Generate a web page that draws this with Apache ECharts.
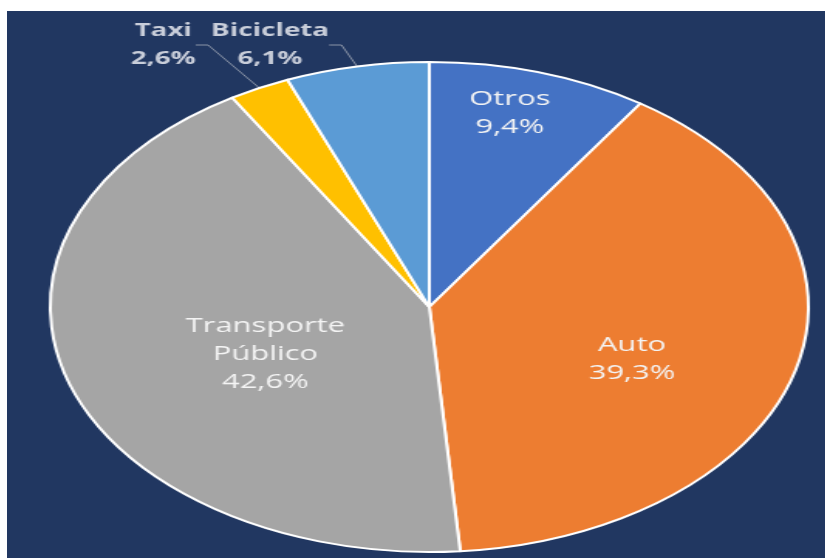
<!DOCTYPE html>
<html>
<head>
<meta charset="utf-8">
<script src="https://cdn.jsdelivr.net/npm/echarts@6/dist/echarts.min.js"></script>
<style>
  html, body { margin: 0; padding: 0; background: #ffffff; width: 825px; height: 558px; overflow: hidden; }
  #chart {
    position: absolute; left: 7px; top: 11px;
    width: 529px; height: 547px;
    transform: scaleX(1.547); transform-origin: 0 0;
  }
</style>
</head>
<body>
<div id="chart"></div>
<script>
// Modal split of trips (%)
const categories = ['Otros', 'Auto', 'Transporte Público', 'Taxi', 'Bicicleta'];
const shares = [9.4, 39.3, 42.6, 2.6, 6.1];
const colors = ['#4472C4', '#ED7D31', '#A5A5A5', '#FFC000', '#5B9BD5'];

// label anchor points (unscaled chart pixels), one per slice
const labelSpots = [[325, 102], [404, 348], [167, 343], [101, 34], [170, 34]];
const outsideLabel = [false, false, false, true, true];

const fmt = v => v.toFixed(1).replace('.', ',') + '%';

const chart = echarts.init(document.getElementById('chart'), null, { renderer: 'canvas' });

chart.setOption({
  backgroundColor: '#213761',
  animation: false,
  series: [{
    type: 'pie',
    center: [273, 296],
    radius: 245,
    startAngle: 90,
    clockwise: true,
    avoidLabelOverlap: false,
    itemStyle: { borderColor: '#ffffff', borderWidth: 2 },
    labelLine: { show: true, length: 8, length2: 8, lineStyle: { color: '#8b95a8', width: 1 } },
    data: categories.map((name, i) => ({
      name,
      value: shares[i],
      itemStyle: { color: colors[i] },
      label: outsideLabel[i]
        ? { position: 'outside', color: '#c9ceda', fontWeight: 'bold', fontSize: 18 }
        : { position: 'inside', color: '#f4f4f4', fontSize: 20 },
      labelLine: { show: outsideLabel[i] }
    })),
    label: {
      fontFamily: 'Open Sans',
      lineHeight: 28,
      formatter: p => p.name.replace(' ', '\n') + '\n' + fmt(p.value)
    },
    labelLayout: p => ({
      x: labelSpots[p.dataIndex][0],
      y: labelSpots[p.dataIndex][1],
      align: 'center',
      verticalAlign: 'middle'
    })
  }]
});
</script>
</body>
</html>
